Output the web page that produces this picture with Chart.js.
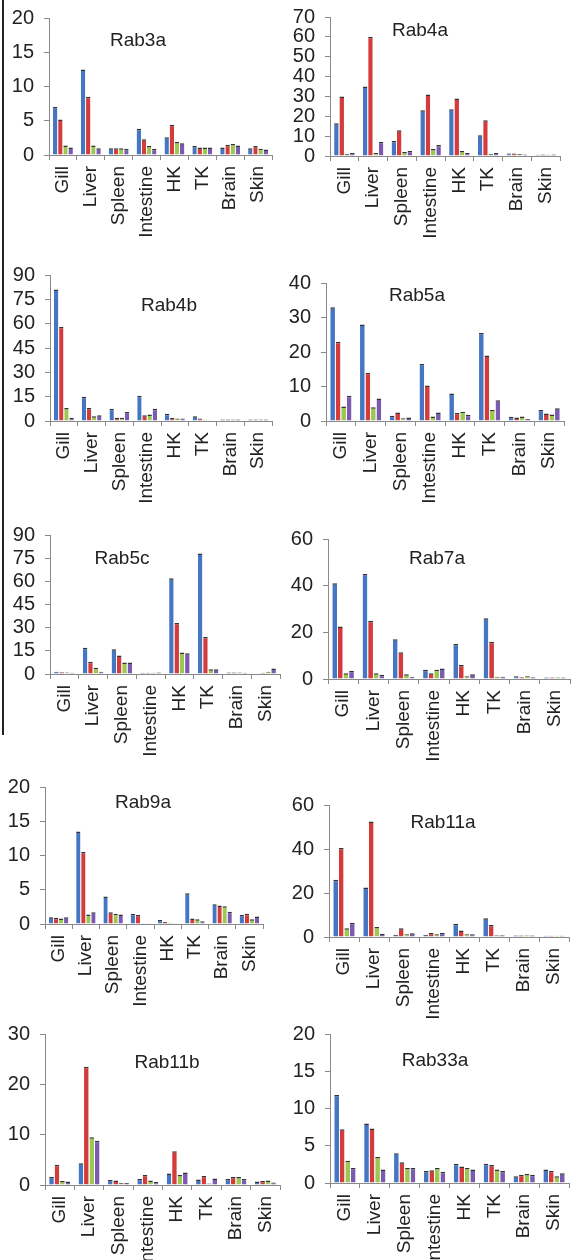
<!DOCTYPE html>
<html>
<head>
<meta charset="utf-8">
<script src="https://cdn.jsdelivr.net/npm/chart.js@4.4.0/dist/chart.umd.min.js"></script>
<style>
    body { margin: 0; background: #fff; width: 574px; height: 1260px; position: relative; overflow: hidden; font-family: "Liberation Sans", Arial, sans-serif; }
    .title { position: absolute; font-size: 19px; color: #222; transform: translate(-50%, -50%); white-space: nowrap; }
    #edge { position: absolute; left: 2px; top: 0; width: 2px; height: 735px; background: #222; }
</style>
</head>
<body>
<div id="edge"></div>
<script>
const categories = ['Gill', 'Liver', 'Spleen', 'Intestine', 'HK', 'TK', 'Brain', 'Skin'];
const seriesNames = ['Series 1', 'Series 2', 'Series 3', 'Series 4'];
const genes = ['Rab3a', 'Rab4a', 'Rab4b', 'Rab5a', 'Rab5c', 'Rab7a', 'Rab9a', 'Rab11a', 'Rab11b', 'Rab33a'];
const yMax = [20, 70, 90, 40, 90, 60, 20, 60, 30, 20];
const yStep = [5, 10, 15, 10, 15, 20, 5, 20, 10, 5];

// rows: blue, red, green, purple series; columns follow categories
const rab3a = [
    [7, 12.5, 1.0, 3.8, 2.6, 1.3, 1.1, 1.0],
    [5.2, 8.5, 1.0, 2.3, 4.4, 1.1, 1.5, 1.3],
    [1.4, 1.4, 1.0, 1.3, 1.9, 1.1, 1.6, 0.9],
    [1.1, 1.0, 0.9, 0.9, 1.7, 1.1, 1.4, 0.8]
];
const rab4a = [
    [16.5, 35, 7.5, 23, 23.5, 10.5, 1.2, 0.6],
    [30, 60, 13, 31, 29, 18, 1.3, 0.7],
    [1, 1.5, 2, 3.5, 2.5, 1, 1.0, 0.6],
    [1.5, 7, 2.5, 5.5, 1.5, 1.5, 0.8, 0.8]
];
const rab4b = [
    [81, 15, 7.5, 15.5, 4.5, 3, 1, 1],
    [58, 8, 2, 3.5, 2, 1.5, 1, 1],
    [8, 3, 2, 4, 1.5, 0.8, 1, 1],
    [2, 3.5, 5.5, 7.5, 1.5, 0.5, 1, 1]
];
const rab5a = [
    [33, 28, 1.5, 16.5, 8, 25.5, 1.2, 3.2],
    [23, 14, 2.5, 10.3, 2.3, 19, 1, 2.2],
    [4.2, 4, 0.8, 1.3, 2.7, 3.2, 1.3, 1.9],
    [7.3, 6.5, 1, 2.5, 1.8, 6, 0.6, 3.7]
];
const rab5c = [
    [1.5, 17, 16, 0.8, 62, 78, 1, 0.5],
    [1.2, 8, 12, 0.8, 33, 24, 1, 0.8],
    [1.0, 4, 7.5, 0.8, 14, 3, 1, 1.5],
    [0.8, 1.5, 7.5, 0.9, 13.5, 3, 0.8, 3.5]
];
const rab7a = [
    [41, 45, 17, 4, 15, 26, 1.2, 0.6],
    [22.5, 25, 11.5, 2.5, 6, 16, 0.8, 0.6],
    [2.5, 2.5, 2, 4, 1.2, 1, 1.2, 0.6],
    [3.5, 1.8, 1, 4.5, 2, 1, 0.8, 0.6]
];
const rab9a = [
    [1, 13.5, 4, 1.5, 0.6, 4.5, 2.9, 1.3],
    [0.9, 10.5, 1.7, 1.3, 0.3, 0.8, 2.7, 1.5],
    [0.8, 1.4, 1.5, 0.1, 0.2, 0.7, 2.6, 0.7],
    [1, 1.7, 1.4, 0.1, 0.1, 0.4, 1.8, 1.1]
];
const rab11a = [
    [26, 22.5, 1, 1, 6, 8.5, 0.7, 0.6],
    [40.5, 52.5, 4, 1.8, 3, 5.5, 0.7, 0.6],
    [4, 4.5, 1.3, 1.2, 1.3, 0.8, 0.7, 0.6],
    [6.5, 1.5, 1.7, 1.8, 1.2, 0.8, 0.7, 0.6]
];
const rab11b = [
    [1.6, 4.3, 1, 1.2, 2.3, 1.1, 1.2, 0.7],
    [4, 23.5, 0.9, 2, 6.7, 1.8, 1.6, 0.8],
    [0.8, 9.5, 0.4, 0.9, 2, 0.3, 1.6, 0.9],
    [0.7, 8.8, 0.4, 0.6, 2.5, 1.3, 1.2, 0.5]
];
const rab33a = [
    [11.8, 8, 4, 1.6, 2.6, 2.6, 0.9, 1.8],
    [7.2, 7.3, 2.8, 1.7, 2.2, 2.4, 1.1, 1.6],
    [3, 3.5, 2, 2, 2, 1.8, 1.2, 0.9],
    [2, 1.8, 2, 1.5, 1.8, 1.6, 1.1, 1.3]
];
const values = [rab3a, rab4a, rab4b, rab5a, rab5c, rab7a, rab9a, rab11a, rab11b, rab33a];

const colors = ['#4576c4', '#d43c3c', '#9cc852', '#7b5ab2'];

// page placement of each panel: y axis x, top of axis, zero line, right end, title centre
const panels = [
    { axisX: 49, top: 18, zero: 155, right: 272, tx: 138, ty: 40 },
    { axisX: 330, top: 17, zero: 156, right: 560, tx: 420, ty: 30 },
    { axisX: 50, top: 275, zero: 421, right: 272, tx: 169, ty: 305 },
    { axisX: 326, top: 283, zero: 421, right: 564, tx: 417, ty: 295 },
    { axisX: 50, top: 535, zero: 674, right: 280, tx: 122, ty: 558 },
    { axisX: 328, top: 539, zero: 679, right: 570, tx: 437, ty: 558 },
    { axisX: 45, top: 787, zero: 924, right: 263, tx: 143, ty: 802 },
    { axisX: 329, top: 805, zero: 937, right: 569, tx: 443, ty: 822 },
    { axisX: 45, top: 1034, zero: 1185, right: 280, tx: 167, ty: 1062 },
    { axisX: 330, top: 1034, zero: 1183, right: 569, tx: 435, ty: 1060 }
];

const axisColor = '#8a8a8a';
const textColor = '#222';

function drawPanel(i) {
    const p = panels[i];
    const yW = 49, padTop = 14, xH = 95, padRight = 4;
    const w = yW + (p.right - p.axisX) + padRight;
    const h = padTop + (p.zero - p.top) + xH;

    const canvas = document.createElement('canvas');
    canvas.width = w;
    canvas.height = h;
    canvas.style.cssText = `position:absolute;left:${p.axisX - yW}px;top:${p.top - padTop}px;width:${w}px;height:${h}px`;
    document.body.appendChild(canvas);

    const title = document.createElement('div');
    title.className = 'title';
    title.style.left = p.tx + 'px';
    title.style.top = p.ty + 'px';
    title.textContent = genes[i];
    document.body.appendChild(title);

    new Chart(canvas.getContext('2d'), {
        type: 'bar',
        data: {
            labels: categories,
            datasets: values[i].map((v, k) => ({
                label: seriesNames[k],
                data: v,
                backgroundColor: colors[k],
                borderColor: '#333',
                borderWidth: { top: 1.5, left: 0, right: 0, bottom: 0 },
                categoryPercentage: 0.74,
                barPercentage: 0.85
            }))
        },
        options: {
            responsive: false,
            animation: false,
            devicePixelRatio: 1,
            layout: { padding: { top: padTop, right: padRight, left: 0, bottom: 0 } },
            plugins: { legend: { display: false }, tooltip: { enabled: false } },
            scales: {
                x: {
                    grid: { display: true, drawOnChartArea: false, drawTicks: true, tickLength: 5, color: axisColor, offset: true },
                    border: { color: axisColor },
                    ticks: {
                        font: { family: 'Liberation Sans', size: 19 },
                        color: textColor,
                        minRotation: 90,
                        maxRotation: 90,
                        autoSkip: false,
                        padding: 6
                    },
                    afterFit: s => { s.height = xH; s.paddingLeft = 0; s.paddingRight = 0; }
                },
                y: {
                    min: 0,
                    max: yMax[i],
                    grid: { display: true, drawOnChartArea: false, drawTicks: true, tickLength: 5, color: axisColor },
                    border: { color: axisColor },
                    ticks: {
                        stepSize: yStep[i],
                        autoSkip: false,
                        font: { family: 'Liberation Sans', size: 20 },
                        color: textColor,
                        padding: 10
                    },
                    afterFit: s => { s.width = yW; s.paddingTop = 0; s.paddingBottom = 0; }
                }
            }
        }
    });
}

window.onload = () => {
    for (let i = 0; i < genes.length; i++) drawPanel(i);
};
</script>
</body>
</html>
